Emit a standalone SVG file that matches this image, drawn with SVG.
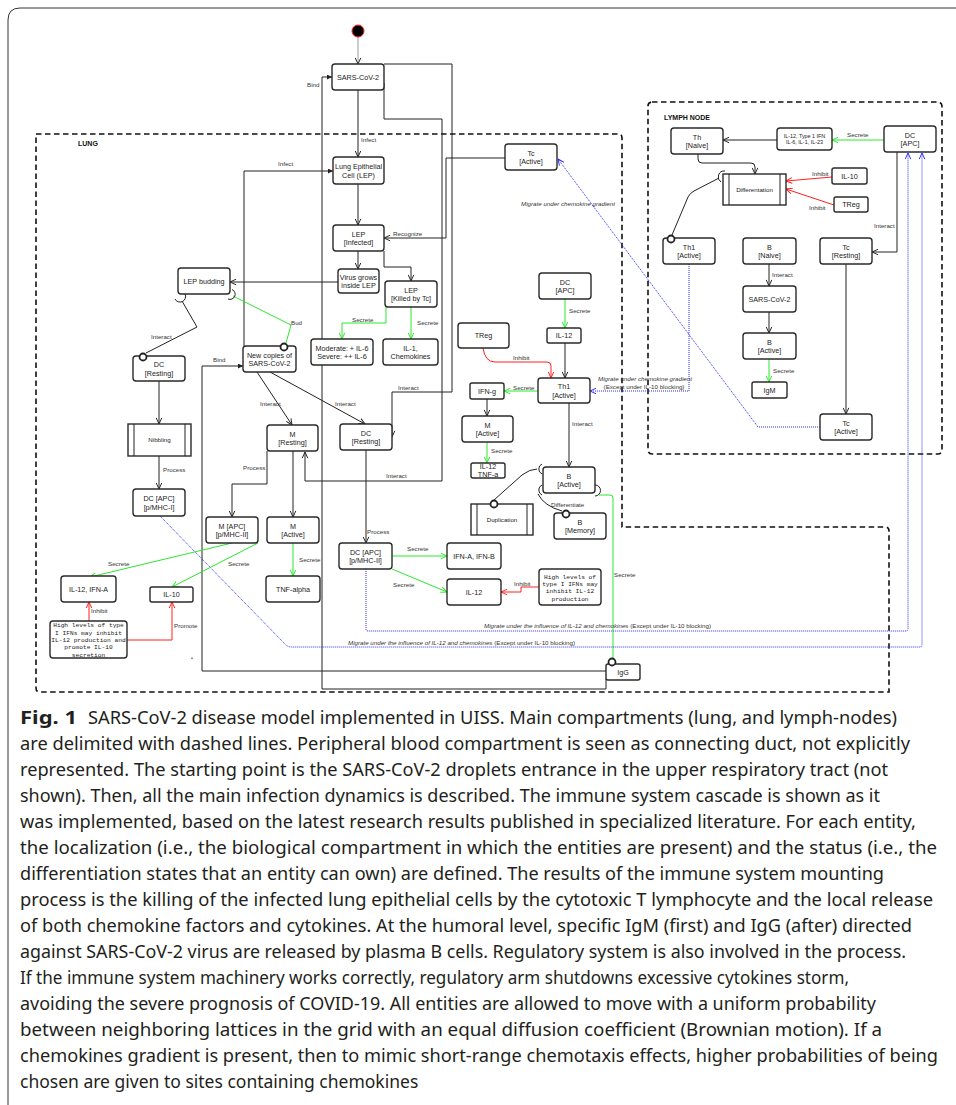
<svg xmlns="http://www.w3.org/2000/svg" width="956" height="1105" viewBox="0 0 956 1105">
<style>
.n{fill:#fff;stroke:#2a2a2a;stroke-width:1.4}
.t{font-family:"Liberation Sans",Arial,sans-serif;font-size:7.2px;fill:#222;text-anchor:middle}
.s{font-size:6.2px}
.xs{font-size:5.4px}
.m{font-family:"Liberation Mono","Courier New",monospace;font-size:6.2px;fill:#222;text-anchor:middle}
.e{font-family:"Liberation Sans",Arial,sans-serif;font-size:6.2px;fill:#333}
.i{font-style:italic}
.k{fill:none;stroke:#222;stroke-width:1}
.g{fill:none;stroke:#2be82b;stroke-width:1}
.r{fill:none;stroke:#ff2020;stroke-width:1}
.b{fill:none;stroke:#2b2bff;stroke-width:1;stroke-dasharray:1 1}
.ball{fill:#fff;stroke:#222;stroke-width:1.8}
.sock{fill:none;stroke:#222;stroke-width:1}
.cmp{fill:none;stroke:#111;stroke-width:1.6;stroke-dasharray:5.5 3.5}
.cl{font-family:"Liberation Sans",Arial,sans-serif;font-size:7px;font-weight:bold;fill:#111}
.cap{font-family:"Noto Sans","Liberation Sans",sans-serif;font-size:17.5px;fill:#231f20}
</style>
<defs>
<marker id="ak" viewBox="0 0 8 8" refX="7.5" refY="4" markerWidth="7" markerHeight="7" orient="auto" markerUnits="userSpaceOnUse"><path d="M0.5,0.8 L7.5,4 L0.5,7.2" fill="none" stroke="#222" stroke-width="1.1"/></marker>
<marker id="ag" viewBox="0 0 8 8" refX="7.5" refY="4" markerWidth="7" markerHeight="7" orient="auto" markerUnits="userSpaceOnUse"><path d="M0.5,0.8 L7.5,4 L0.5,7.2" fill="none" stroke="#2be82b" stroke-width="1.1"/></marker>
<marker id="ar" viewBox="0 0 8 8" refX="7.5" refY="4" markerWidth="7" markerHeight="7" orient="auto" markerUnits="userSpaceOnUse"><path d="M0.5,0.8 L7.5,4 L0.5,7.2" fill="none" stroke="#ff2020" stroke-width="1.1"/></marker>
<marker id="ab" viewBox="0 0 8 8" refX="7.5" refY="4" markerWidth="7" markerHeight="7" orient="auto" markerUnits="userSpaceOnUse"><path d="M0.5,0.8 L7.5,4 L0.5,7.2" fill="none" stroke="#2b2bff" stroke-width="1.1"/></marker>
<marker id="fk" viewBox="0 0 6 6" refX="6" refY="3" markerWidth="5" markerHeight="5" orient="auto" markerUnits="userSpaceOnUse"><path d="M0,0 L6,3 L0,6 z" fill="#222"/></marker>
</defs>
<rect width="956" height="1105" fill="#fff"/>
<g id="frame"><path d="M8,1105 L8,20 Q8,8 20,8 L956,8" fill="none" stroke="#333" stroke-width="1"/></g>
<g id="lung-compartment">
<path class="cmp" d="M36,134 L618,134 Q622,134 622,138 L622,527 L885,527 Q889,527 889,531 L889,692 L40,692 Q36,692 36,688 Z"/>
<text class="cl" x="78" y="145.5">LUNG</text>
</g>
<g id="lymph-node-compartment">
<rect class="cmp" x="648" y="102" width="294" height="352" rx="4"/>
<text class="cl" x="664" y="119.5">LYMPH NODE</text>
</g>
<g id="connectors">
<path d="M358,37 L358,64" fill="none" stroke="#999" stroke-width="1" marker-end="url(#ak)"/>
<path class="k" d="M358,90 L358,157" marker-end="url(#ak)"/>
<text class="e" x="361" y="141.5">Infect</text>
<path class="k" d="M606,679 L606,689 L322,689 L322,77 L332,77" marker-end="url(#fk)"/>
<text class="e" x="319.5" y="87" text-anchor="end">Bind</text>
<path class="k" d="M384,64 L452,64 L452,392 L392,392 L392,437" marker-end="url(#ak)"/>
<text class="e" x="398" y="390">Interact</text>
<path class="k" d="M384,83 L384,119 L442,119 L442,481 L305,481 L305,452" marker-end="url(#ak)"/>
<text class="e" x="386" y="477.5">Interact</text>
<path class="k" d="M358,184 L358,225" marker-end="url(#ak)"/>
<path class="k" d="M505,158 L446,158 L446,238 L384,238" marker-end="url(#ak)"/>
<text class="e" x="393" y="235.5">Recognize</text>
<path class="k" d="M358,251 L358,269" marker-end="url(#ak)"/>
<path class="k" d="M384,251 L384,267 L411,267 L411,281" marker-end="url(#ak)"/>
<path class="k" d="M338,282 L230,282" marker-end="url(#ak)"/>
<path class="k" d="M244,346 L244,171 L333,171" marker-end="url(#fk)"/>
<text class="e" x="278" y="166">Infect</text>
<path class="g" d="M386,307 L386,323 L342,323 L342,339" marker-end="url(#ag)"/>
<text class="e" x="352" y="322">Secrete</text>
<path class="g" d="M411,307 L411,339" marker-end="url(#ag)"/>
<text class="e" x="417" y="325">Secrete</text>
<path class="g" d="M565,299 L565,328" marker-end="url(#ag)"/>
<text class="e" x="569" y="312.5">Secrete</text>
<path class="k" d="M565,343 L565,378" marker-end="url(#ak)"/>
<path class="r" d="M483,348 Q485,362 495,362 L547,362 Q551,362 551,366 L551,378" marker-end="url(#ar)"/>
<text class="e" x="513" y="360">Inhibit</text>
<path class="g" d="M538,391 L504,391" marker-end="url(#ag)"/>
<text class="e" x="513" y="389.5">Secrete</text>
<path class="k" d="M487,399 L487,416" marker-end="url(#ak)"/>
<path class="g" d="M487,442 L487,463" marker-end="url(#ag)"/>
<text class="e" x="491" y="452.5">Secrete</text>
<path class="k" d="M569,403 L569,467" marker-end="url(#ak)"/>
<text class="e" x="572" y="425.5">Interact</text>
<path class="k" d="M494,500 L522,475 Q530,469 537,469"/>
<path class="k" d="M538,494 Q544,506 562,511"/>
<text class="e" x="551" y="507">Differentiate</text>
<path class="g" d="M599,495 L610,495 Q613,495 613,498 L613,659"/>
<text class="e" x="614" y="576.5">Secrete</text>
<path class="k" d="M366,450 L366,543" marker-end="url(#ak)"/>
<text class="e" x="367" y="534">Process</text>
<path class="g" d="M392,556 L447,556" marker-end="url(#ag)"/>
<text class="e" x="407" y="550.5">Secrete</text>
<path class="g" d="M392,569 L447,592" marker-end="url(#ag)"/>
<text class="e" x="393" y="586.5">Secrete</text>
<path class="r" d="M539,587 L521,587 L521,592 L501,592" marker-end="url(#ar)"/>
<text class="e" x="514" y="586">Inhibit</text>
<path class="b" d="M366,569 L366,629 Q366,631 368,631 L906,631 Q908,631 908,629 L908,153" marker-end="url(#ab)"/>
<text class="e" x="484" y="628"><tspan class="i">Migrate under the influence of IL-12 and chemokines</tspan> (Except under IL-10 blocking)</text>
<path class="b" d="M160,516 L284,643 Q287,647 292,647 L920,647 Q922,647 922,645 L922,153" marker-end="url(#ab)"/>
<text class="e" x="348" y="645"><tspan class="i">Migrate under the influence of IL-12 and chemokines</tspan> (Except under IL-10 blocking)</text>
<path class="b" d="M820,427 L758,427 L558,159" marker-end="url(#ab)"/>
<text class="e i" x="568" y="206" text-anchor="middle">Migrate under chemokine gradient</text>
<path class="b" d="M689,264 L689,391 L590,391" marker-end="url(#ab)"/>
<text class="e i" x="645" y="380.5" text-anchor="middle">Migrate under chemokine gradient</text>
<text class="e" x="644" y="388.5" text-anchor="middle">(Except under IL-10 blocking)</text>
<path class="k" d="M606,671 L202,671 L202,366 L243,366" marker-end="url(#fk)"/>
<text class="e" x="213" y="362">Bind</text>
<path class="k" d="M182,301 L197,327 L146,353"/>
<text class="e" x="151" y="339">Interact</text>
<path class="g" d="M233,296 L291,325 L286,343"/>
<text class="e" x="291" y="325">Bud</text>
<path class="k" d="M257,372 L292,425" marker-end="url(#ak)"/>
<text class="e" x="260" y="405.5">Interact</text>
<path class="k" d="M270,372 L365,424" marker-end="url(#ak)"/>
<text class="e" x="335" y="406">Interact</text>
<path class="k" d="M159,381 L159,424" marker-end="url(#ak)"/>
<path class="k" d="M159,456 L159,489" marker-end="url(#ak)"/>
<text class="e" x="163" y="472">Process</text>
<path class="k" d="M267,451 L267,484 L232,484 L232,517" marker-end="url(#ak)"/>
<text class="e" x="243" y="469.5">Process</text>
<path class="k" d="M293,451 L293,517" marker-end="url(#ak)"/>
<path class="g" d="M232,543 L90,577" marker-end="url(#ag)"/>
<text class="e" x="108" y="566">Secrete</text>
<path class="g" d="M258,543 L172,587" marker-end="url(#ag)"/>
<text class="e" x="228" y="566">Secrete</text>
<path class="g" d="M293,543 L293,576" marker-end="url(#ag)"/>
<text class="e" x="299" y="561.5">Secrete</text>
<path class="r" d="M89,621 L89,602" marker-end="url(#ar)"/>
<text class="e" x="91" y="613">Inhibit</text>
<path class="r" d="M127,640 L172,640 L172,602" marker-end="url(#ar)"/>
<text class="e" x="174" y="628">Promote</text>
<path class="g" d="M884,140 L832,140" marker-end="url(#ag)"/>
<text class="e" x="847" y="136.5">Secrete</text>
<path class="k" d="M777,140 L723,140" marker-end="url(#ak)"/>
<path class="k" d="M698,154 L698,159 Q698,163 702,163 L751,163 Q755,163 755,167 L755,174" marker-end="url(#ak)"/>
<path class="r" d="M832,177 L786,181" marker-end="url(#ar)"/>
<text class="e" x="812" y="176">Inhibit</text>
<path class="r" d="M834,205 L786,189" marker-end="url(#ar)"/>
<text class="e" x="809" y="209.5">Inhibit</text>
<path class="k" d="M672,235 L688,197 Q690,193 694,191 L719,178"/>
<path class="k" d="M769,264 L769,286" marker-end="url(#ak)"/>
<text class="e" x="772" y="276.5">Interact</text>
<path class="k" d="M769,312 L769,333" marker-end="url(#ak)"/>
<path class="g" d="M769,359 L769,382" marker-end="url(#ag)"/>
<text class="e" x="773" y="373">Secrete</text>
<path class="k" d="M897,152 L897,252 L872,252" marker-end="url(#ak)"/>
<text class="e" x="874" y="228">Interact</text>
<path class="k" d="M846,264 L846,414" marker-end="url(#ak)"/>
</g>
<g id="start"><circle cx="358" cy="31" r="6" fill="#000" stroke="#ff2020" stroke-width="1"/></g>
<g id="sars-cov-2"><rect class="n" x="332" y="64" width="52" height="26" rx="3"/><text class="t" x="358" y="79.6">SARS-CoV-2</text></g>
<g id="lep"><rect class="n" x="333" y="157" width="51" height="27" rx="3"/><text class="t" x="358.5" y="169.3">Lung Epithelial</text><text class="t" x="358.5" y="177.7">Cell (LEP)</text></g>
<g id="lep-infected"><rect class="n" x="333" y="225" width="51" height="26" rx="3"/><text class="t" x="358.5" y="236.8">LEP</text><text class="t" x="358.5" y="245.2">[Infected]</text></g>
<g id="virus-grows"><rect class="n" x="338" y="269" width="41" height="24" rx="3"/><text class="t" x="358.5" y="279.8">Virus grows</text><text class="t" x="358.5" y="288.2">inside LEP</text></g>
<g id="lep-killed"><rect class="n" x="385" y="281" width="52" height="26" rx="3"/><text class="t" x="411" y="292.8">LEP</text><text class="t" x="411" y="301.2">[Killed by Tc]</text></g>
<g id="il6"><rect class="n" x="311" y="339" width="62" height="26" rx="3"/><text class="t" x="342" y="350.8">Moderate: + IL-6</text><text class="t" x="342" y="359.2">Severe: ++ IL-6</text></g>
<g id="il1-chemokines"><rect class="n" x="383" y="339" width="55" height="26" rx="3"/><text class="t" x="410.5" y="350.8">IL-1,</text><text class="t" x="410.5" y="359.2">Chemokines</text></g>
<g id="tc-active-lung"><rect class="n" x="505" y="144" width="52" height="26" rx="3"/><text class="t" x="531" y="155.8">Tc</text><text class="t" x="531" y="164.2">[Active]</text></g>
<g id="dc-apc-lung"><rect class="n" x="539" y="273" width="52" height="26" rx="3"/><text class="t" x="565" y="284.8">DC</text><text class="t" x="565" y="293.2">[APC]</text></g>
<g id="il12-lung"><rect class="n" x="547" y="328" width="34" height="15" rx="2"/><text class="t" x="564" y="338">IL-12</text></g>
<g id="treg-lung"><rect class="n" x="458" y="323" width="51" height="25" rx="3"/><text class="t" x="483.5" y="338.1">TReg</text></g>
<g id="th1-active-lung"><rect class="n" x="538" y="378" width="52" height="25" rx="3"/><text class="t" x="564" y="389.3">Th1</text><text class="t" x="564" y="397.7">[Active]</text></g>
<g id="ifn-g"><rect class="n" x="470" y="383" width="34" height="16" rx="2"/><text class="t" x="487" y="393.6">IFN-g</text></g>
<g id="m-active-th"><rect class="n" x="462" y="416" width="51" height="26" rx="3"/><text class="t" x="487.5" y="427.8">M</text><text class="t" x="487.5" y="436.2">[Active]</text></g>
<g id="il12-tnfa"><rect class="n" x="471" y="463" width="34" height="15" rx="2"/><text class="t" x="488" y="469.3">IL-12</text><text class="t" x="488" y="477.3">TNF-a</text></g>
<g id="b-active-lung"><rect class="n" x="543" y="467" width="52" height="26" rx="3"/><text class="t" x="569" y="478.8">B</text><text class="t" x="569" y="487.2">[Active]</text></g>
<g id="duplication"><rect class="n" x="471" y="504" width="62" height="31"/><path class="k" d="M477,504 V535 M527,504 V535"/><text class="t s" x="502" y="521.8">Duplication</text></g>
<g id="b-memory"><rect class="n" x="554" y="513" width="52" height="26" rx="3"/><text class="t" x="580" y="524.8">B</text><text class="t" x="580" y="533.2">[Memory]</text></g>
<g id="igg"><rect class="n" x="606" y="664" width="34" height="16" rx="2"/><text class="t" x="623" y="674.6">IgG</text></g>
<g id="dc-resting-center"><rect class="n" x="340" y="424" width="52" height="26" rx="3"/><text class="t" x="366" y="435.8">DC</text><text class="t" x="366" y="444.2">[Resting]</text></g>
<g id="dc-apc-mhc2"><rect class="n" x="339" y="543" width="53" height="26" rx="3"/><text class="t" x="365.5" y="554.8">DC [APC]</text><text class="t" x="365.5" y="563.2">[p/MHC-II]</text></g>
<g id="ifn-ab"><rect class="n" x="447" y="543" width="54" height="26" rx="3"/><text class="t" x="474" y="558.6">IFN-A, IFN-B</text></g>
<g id="il12-center"><rect class="n" x="447" y="579" width="54" height="26" rx="3"/><text class="t" x="474" y="594.6">IL-12</text></g>
<g id="note-right"><rect class="n" x="539" y="569" width="62" height="36" rx="3"/><text class="m" x="570" y="578.7">High levels of</text><text class="m" x="570" y="586">type I IFNs may</text><text class="m" x="570" y="593.3">inhibit IL-12</text><text class="m" x="570" y="600.6">production</text></g>
<g id="lep-budding"><rect class="n" x="178" y="268" width="52" height="26" rx="3"/><text class="t" x="204" y="283.6">LEP budding</text></g>
<g id="dc-resting-left"><rect class="n" x="133" y="356" width="52" height="25" rx="3"/><text class="t" x="159" y="367.3">DC</text><text class="t" x="159" y="375.7">[Resting]</text></g>
<g id="new-copies"><rect class="n" x="243" y="346" width="53" height="26" rx="3"/><text class="t" x="269.5" y="357.8">New copies of</text><text class="t" x="269.5" y="366.2">SARS-CoV-2</text></g>
<g id="nibbling"><rect class="n" x="128" y="424" width="63" height="32"/><path class="k" d="M134,424 V456 M185,424 V456"/><text class="t s" x="159.5" y="442.2">Nibbling</text></g>
<g id="dc-apc-mhc1"><rect class="n" x="133" y="489" width="52" height="27" rx="3"/><text class="t" x="159" y="501.3">DC [APC]</text><text class="t" x="159" y="509.7">[p/MHC-I]</text></g>
<g id="m-resting"><rect class="n" x="267" y="425" width="51" height="26" rx="3"/><text class="t" x="292.5" y="436.8">M</text><text class="t" x="292.5" y="445.2">[Resting]</text></g>
<g id="m-apc"><rect class="n" x="206" y="517" width="52" height="26" rx="3"/><text class="t" x="232" y="528.8">M [APC]</text><text class="t" x="232" y="537.2">[p/MHC-II]</text></g>
<g id="m-active"><rect class="n" x="267" y="517" width="52" height="26" rx="3"/><text class="t" x="293" y="528.8">M</text><text class="t" x="293" y="537.2">[Active]</text></g>
<g id="il12-ifna"><rect class="n" x="61" y="576" width="55" height="26" rx="3"/><text class="t" x="88.5" y="591.6">IL-12, IFN-A</text></g>
<g id="il10-lung"><rect class="n" x="150" y="587" width="43" height="15" rx="2"/><text class="t" x="171.5" y="597">IL-10</text></g>
<g id="tnf-alpha"><rect class="n" x="266" y="576" width="54" height="26" rx="3"/><text class="t" x="293" y="591.6">TNF-alpha</text></g>
<g id="note-left"><rect class="n" x="50" y="621" width="77" height="37" rx="3"/><text class="m" x="88.5" y="627">High levels of type</text><text class="m" x="88.5" y="634.7">I IFNs may inhibit</text><text class="m" x="88.5" y="642">IL-12 production and</text><text class="m" x="88.5" y="649.3">promote IL-10</text><text class="m" x="88.5" y="656.7">secretion</text></g>
<g id="th-naive"><rect class="n" x="671" y="128" width="52" height="26" rx="3"/><text class="t" x="697" y="139.8">Th</text><text class="t" x="697" y="148.2">[Naive]</text></g>
<g id="cytokines-ln"><rect class="n" x="777" y="128" width="55" height="22" rx="3"/><text class="t xs" x="804.5" y="137.7">IL-12, Type 1 IFN</text><text class="t xs" x="804.5" y="144.3">IL-6, IL-1, IL-23</text></g>
<g id="dc-apc-ln"><rect class="n" x="884" y="126" width="52" height="26" rx="3"/><text class="t" x="910" y="137.8">DC</text><text class="t" x="910" y="146.2">[APC]</text></g>
<g id="differentation"><rect class="n" x="723" y="174" width="63" height="31"/><path class="k" d="M729,174 V205 M780,174 V205"/><text class="t s" x="754.5" y="191.7">Differentation</text></g>
<g id="il10-ln"><rect class="n" x="832" y="168" width="35" height="16" rx="2"/><text class="t" x="849.5" y="178.6">IL-10</text></g>
<g id="treg-ln"><rect class="n" x="834" y="197" width="34" height="15" rx="2"/><text class="t" x="851" y="207">TReg</text></g>
<g id="th1-active-ln"><rect class="n" x="663" y="238" width="52" height="26" rx="3"/><text class="t" x="689" y="249.8">Th1</text><text class="t" x="689" y="258.2">[Active]</text></g>
<g id="b-naive"><rect class="n" x="743" y="238" width="53" height="26" rx="3"/><text class="t" x="769.5" y="249.8">B</text><text class="t" x="769.5" y="258.2">[Naive]</text></g>
<g id="sars-cov-2-ln"><rect class="n" x="743" y="286" width="53" height="26" rx="3"/><text class="t" x="769.5" y="301.6">SARS-CoV-2</text></g>
<g id="b-active-ln"><rect class="n" x="743" y="333" width="53" height="26" rx="3"/><text class="t" x="769.5" y="344.8">B</text><text class="t" x="769.5" y="353.2">[Active]</text></g>
<g id="igm"><rect class="n" x="752" y="382" width="35" height="16" rx="2"/><text class="t" x="769.5" y="392.6">IgM</text></g>
<g id="tc-resting"><rect class="n" x="820" y="238" width="52" height="26" rx="3"/><text class="t" x="846" y="249.8">Tc</text><text class="t" x="846" y="258.2">[Resting]</text></g>
<g id="tc-active-ln"><rect class="n" x="820" y="414" width="52" height="26" rx="3"/><text class="t" x="846" y="425.8">Tc</text><text class="t" x="846" y="434.2">[Active]</text></g>
<g id="connector-ends">
<circle class="ball" cx="494" cy="504" r="3.5"/>
<circle class="ball" cx="566" cy="514" r="3.5"/>
<circle class="ball" cx="612" cy="662" r="3.5"/>
<circle class="ball" cx="671" cy="239" r="3.5"/>
<circle class="ball" cx="143" cy="357" r="3.5"/>
<circle class="ball" cx="284" cy="347" r="3.5"/>
<path class="sock" d="M185,294 A5,5 0 0,1 175,299"/>
<path class="sock" d="M232,289.5 A5,5 0 0,1 228,299"/>
<path class="sock" d="M542,464 A5.5,5.5 0 0,0 542,474"/>
<path class="sock" d="M542,485 A5.5,5.5 0 0,0 542,495"/>
<path class="sock" d="M595,485 A5.5,5.5 0 0,1 595,496"/>
<path class="sock" d="M725,171 A6,6 0 0,0 721,182"/>
<rect x="191.5" y="657.5" width="1" height="1.5" fill="#222"/>
</g>
<g id="caption">
<text class="cap" x="20" y="724" font-weight="bold" textLength="57" lengthAdjust="spacingAndGlyphs">Fig. 1</text>
<text class="cap" x="88" y="724" textLength="809" lengthAdjust="spacingAndGlyphs">SARS-CoV-2 disease model implemented in UISS. Main compartments (lung, and lymph-nodes)</text>
<text class="cap" x="20" y="750" textLength="890" lengthAdjust="spacingAndGlyphs">are delimited with dashed lines. Peripheral blood compartment is seen as connecting duct, not explicitly</text>
<text class="cap" x="20" y="776" textLength="868" lengthAdjust="spacingAndGlyphs">represented. The starting point is the SARS-CoV-2 droplets entrance in the upper respiratory tract (not</text>
<text class="cap" x="20" y="802" textLength="860" lengthAdjust="spacingAndGlyphs">shown). Then, all the main infection dynamics is described. The immune system cascade is shown as it</text>
<text class="cap" x="20" y="828" textLength="896" lengthAdjust="spacingAndGlyphs">was implemented, based on the latest research results published in specialized literature. For each entity,</text>
<text class="cap" x="20" y="854" textLength="917" lengthAdjust="spacingAndGlyphs">the localization (i.e., the biological compartment in which the entities are present) and the status (i.e., the</text>
<text class="cap" x="20" y="880" textLength="864" lengthAdjust="spacingAndGlyphs">differentiation states that an entity can own) are defined. The results of the immune system mounting</text>
<text class="cap" x="20" y="906" textLength="913" lengthAdjust="spacingAndGlyphs">process is the killing of the infected lung epithelial cells by the cytotoxic T lymphocyte and the local release</text>
<text class="cap" x="20" y="932" textLength="892" lengthAdjust="spacingAndGlyphs">of both chemokine factors and cytokines. At the humoral level, specific IgM (first) and IgG (after) directed</text>
<text class="cap" x="20" y="958" textLength="886" lengthAdjust="spacingAndGlyphs">against SARS-CoV-2 virus are released by plasma B cells. Regulatory system is also involved in the process.</text>
<text class="cap" x="20" y="984" textLength="829" lengthAdjust="spacingAndGlyphs">If the immune system machinery works correctly, regulatory arm shutdowns excessive cytokines storm,</text>
<text class="cap" x="20" y="1010" textLength="856" lengthAdjust="spacingAndGlyphs">avoiding the severe prognosis of COVID-19. All entities are allowed to move with a uniform probability</text>
<text class="cap" x="20" y="1036" textLength="862" lengthAdjust="spacingAndGlyphs">between neighboring lattices in the grid with an equal diffusion coefficient (Brownian motion). If a</text>
<text class="cap" x="20" y="1062" textLength="918" lengthAdjust="spacingAndGlyphs">chemokines gradient is present, then to mimic short-range chemotaxis effects, higher probabilities of being</text>
<text class="cap" x="20" y="1088">chosen are given to sites containing chemokines</text>
</g>
</svg>
